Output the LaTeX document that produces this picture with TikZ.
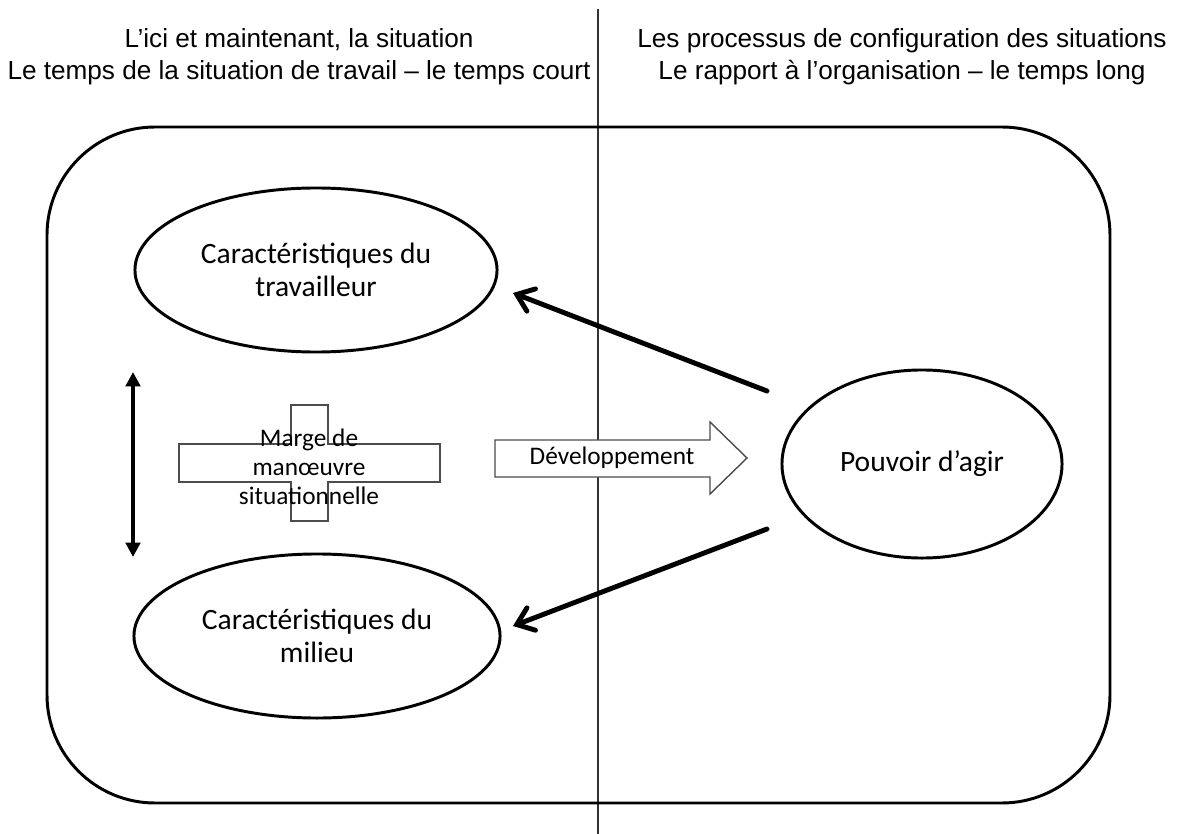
\documentclass[tikz,border=0pt]{standalone}
\usepackage{fontspec}
\setmainfont{Carlito}
\newfontfamily\entete{Liberation Sans}
\usetikzlibrary{shapes.geometric,arrows.meta}

\begin{document}
\begin{tikzpicture}[x=0.025cm,y=-0.025cm,
  bulle/.style={draw,ellipse,line width=2.1pt,inner sep=0pt,align=center,font=\fontsize{21pt}{23.5pt}\selectfont},
  titre/.style={align=center,font=\entete\fontsize{18.6pt}{22.5pt}\selectfont},
  fleche/.style={line width=3.5pt,line cap=round,-{Straight Barb[length=11pt,width=17pt,line cap=round]}},
  contour/.style={draw=black!70,line width=1pt}]
  \useasboundingbox (0,0) rectangle (1177,834);

  % Headers
  \node[titre] (ici) at (299,57) {L’ici et maintenant, la situation\\Le temps de la situation de travail – le temps court};
  \node[titre] (config) at (902,57) {Les processus de configuration des situations\\Le rapport à l’organisation – le temps long};
  \draw[black!80,line width=0.9pt] (598,9) -- (598,834);

  % Frame
  \draw[line width=2.1pt,rounded corners=2.7cm] (47,127) rectangle (1110,803);

  % Ellipses
  \node[bulle,minimum width=9.05cm,minimum height=4.1cm] (travailleur) at (316,270) {Caractéristiques du\\travailleur};
  \node[bulle,minimum width=9.15cm,minimum height=4.1cm] (milieu) at (317,636) {Caractéristiques du\\milieu};
  \node[bulle,minimum width=7cm,minimum height=4.7cm] (pouvoir) at (922,464) {Pouvoir d’agir};

  % Cross
  \draw[contour] (291,405) -- (328,405) -- (328,444) -- (440,444) -- (440,482) -- (328,482) -- (328,521)
    -- (291,521) -- (291,482) -- (179,482) -- (179,444) -- (291,444) -- cycle;
  \node[align=center,font=\fontsize{18pt}{20.6pt}\selectfont] (marge) at (309,467) {Marge de\\manœuvre\\situationnelle};

  % Development arrow
  \draw[contour,fill=white] (495,440) -- (710,440) -- (710,422) -- (747,458) -- (710,494) -- (710,477) -- (495,477) -- cycle;
  \node[font=\fontsize{18pt}{20pt}\selectfont] (dev) at (612,458) {Développement};

  % Links
  \coordinate (agir-haut) at (767,391);
  \coordinate (agir-bas) at (767,529);
  \coordinate (trav-pointe) at (513,293);
  \coordinate (mil-pointe) at (513,626);
  \draw[fleche] (agir-haut) -- (trav-pointe);
  \draw[fleche] (agir-bas) -- (mil-pointe);

  % Vertical double arrow
  \coordinate (dbl-haut) at (133,372);
  \coordinate (dbl-bas) at (133,557);
  \draw[line width=2.8pt,{Triangle[length=0.36cm,width=0.36cm]}-{Triangle[length=0.36cm,width=0.36cm]}] (dbl-haut) -- (dbl-bas);
\end{tikzpicture}
\end{document}
